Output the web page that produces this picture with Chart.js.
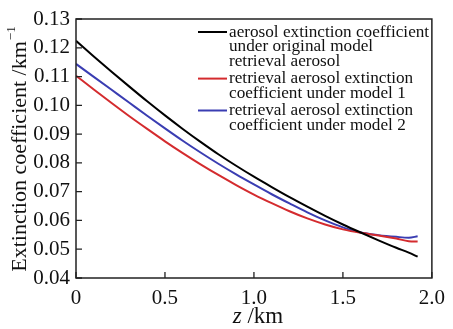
<!DOCTYPE html>
<html>
<head>
<meta charset="utf-8">
<script src="https://cdn.jsdelivr.net/npm/chart.js@4"></script>
<style>
  html, body { margin: 0; padding: 0; background: #fff; }
  #wrap { width: 453px; height: 329px; }
</style>
</head>
<body>
<div id="wrap"><canvas id="grafica"></canvas></div>
<script>
// heights z (km)
var heights = [0, 0.1, 0.2, 0.3, 0.4, 0.5, 0.6, 0.7, 0.8, 0.9, 1.0, 1.1, 1.2, 1.3, 1.4, 1.5, 1.6, 1.7, 1.8, 1.87, 1.92];

var original = [0.1224, 0.1170, 0.1117, 0.1065, 0.1014, 0.0965, 0.0918, 0.0873, 0.0830, 0.0790, 0.0752,
                0.0716, 0.0681, 0.0648, 0.0616, 0.0586, 0.0558, 0.0531, 0.0505, 0.0488, 0.0474];
var model1 = [0.1103, 0.1055, 0.1008, 0.0962, 0.0918, 0.0875, 0.0834, 0.0795, 0.0758, 0.0723, 0.0690,
              0.0660, 0.0632, 0.0607, 0.0586, 0.0569, 0.0557, 0.0548, 0.0537, 0.0528, 0.0527];
var model2 = [0.1144, 0.1099, 0.1054, 0.1009, 0.0964, 0.0920, 0.0877, 0.0836, 0.0797, 0.0760, 0.0725,
              0.0691, 0.0659, 0.0628, 0.0600, 0.0576, 0.0558, 0.0549, 0.0543, 0.0540, 0.0545];

var xTicks = ['0', '0.5', '1.0', '1.5', '2.0'];
var yTicks = ['0.04', '0.05', '0.06', '0.07', '0.08', '0.09', '0.10', '0.11', '0.12', '0.13'];

var legendLines = [
    ['aerosol extinction coefficient', 'under original model', 'retrieval aerosol'],
    ['retrieval aerosol extinction', 'coefficient under model 1'],
    ['retrieval aerosol extinction', 'coefficient under model 2']
];
var colores = ['#000000', '#d42b2e', '#3a3db2'];

var serif = '"Liberation Serif", "DejaVu Serif", serif';

function puntos(vals) {
    return vals.map(function (v, i) { return { x: heights[i], y: v }; });
}

// frame, inward ticks, axis titles and legend
var marco = {
    id: 'marco',
    afterDraw: function (chart) {
        var ctx = chart.ctx;
        var a = chart.chartArea;
        var xs = chart.scales.x, ys = chart.scales.y;
        ctx.save();
        ctx.strokeStyle = '#222';
        ctx.lineWidth = 1.5;
        ctx.strokeRect(a.left, a.top, a.right - a.left, a.bottom - a.top);

        ctx.lineWidth = 1.3;
        ctx.beginPath();
        xs.ticks.forEach(function (t) {
            var px = xs.getPixelForValue(t.value);
            ctx.moveTo(px, a.bottom); ctx.lineTo(px, a.bottom - 6);
        });
        ys.ticks.forEach(function (t) {
            var py = ys.getPixelForValue(t.value);
            ctx.moveTo(a.left, py); ctx.lineTo(a.left + 6, py);
        });
        ctx.stroke();

        // x title
        ctx.fillStyle = '#111';
        ctx.textBaseline = 'middle';
        ctx.font = 'italic 23px ' + serif;
        var wz = ctx.measureText('z').width;
        ctx.font = '23px ' + serif;
        var wr = ctx.measureText(' /km').width;
        var cx = (a.left + a.right) / 2 + 4;
        var x0 = cx - (wz + wr) / 2;
        ctx.font = 'italic 23px ' + serif;
        ctx.textAlign = 'left';
        ctx.fillText('z', x0, 317);
        ctx.font = '23px ' + serif;
        ctx.fillText(' /km', x0 + wz, 317);

        // y title
        ctx.save();
        ctx.translate(20, (a.top + a.bottom) / 2 + 1);
        ctx.rotate(-Math.PI / 2);
        ctx.font = '22px ' + serif;
        var main = 'Extinction coefficient /km';
        var wm = ctx.measureText(main).width;
        ctx.font = '13px ' + serif;
        var ws = ctx.measureText('\u22121').width;
        var sx = -(wm + ws) / 2;
        ctx.font = '22px ' + serif;
        ctx.fillText(main, sx, 0);
        ctx.font = '13px ' + serif;
        ctx.fillText('\u22121', sx + wm + 1, -8);
        ctx.restore();

        // legend
        ctx.font = '17.2px ' + serif;
        ctx.textBaseline = 'middle';
        var y = a.top + 13;
        legendLines.forEach(function (lines, k) {
            ctx.strokeStyle = colores[k];
            ctx.lineWidth = 2;
            ctx.beginPath();
            ctx.moveTo(198, y); ctx.lineTo(227, y);
            ctx.stroke();
            lines.forEach(function (txt, j) {
                ctx.fillStyle = '#111';
                ctx.fillText(txt, 229, y + j * 14.7);
            });
            y += lines.length * 14.7 + 2.5;
        });
        ctx.restore();
    }
};

var canvas = document.getElementById('grafica');

new Chart(canvas.getContext('2d'), {
    type: 'line',
    data: {
        datasets: [
            { label: legendLines[0].join(' '), data: puntos(original), borderColor: colores[0] },
            { label: legendLines[1].join(' '), data: puntos(model1), borderColor: colores[1] },
            { label: legendLines[2].join(' '), data: puntos(model2), borderColor: colores[2] }
        ]
    },
    options: {
        responsive: true,
        maintainAspectRatio: false,
        animation: false,
        layout: { padding: { top: 19, right: 15, left: 0, bottom: 0 } },
        elements: {
            point: { radius: 0 },
            line: { borderWidth: 2, tension: 0.4, cubicInterpolationMode: 'monotone', fill: false }
        },
        scales: {
            x: {
                type: 'linear', min: 0, max: 2,
                grid: { display: false, drawTicks: false },
                border: { display: false },
                ticks: {
                    stepSize: 0.5, padding: 8, color: '#111', maxRotation: 0,
                    font: { family: serif, size: 21 },
                    callback: function (v) { return xTicks[Math.round(v / 0.5)]; }
                },
                afterFit: function (s) { s.height = 51; }
            },
            y: {
                min: 0.04, max: 0.13,
                grid: { display: false, drawTicks: false },
                border: { display: false },
                ticks: {
                    stepSize: 0.01, padding: 6, color: '#111',
                    font: { family: serif, size: 21 },
                    callback: function (v) { return yTicks[Math.round((v - 0.04) / 0.01)]; }
                },
                afterFit: function (s) { s.width = 76; }
            }
        },
        plugins: { legend: { display: false }, tooltip: { enabled: false } }
    },
    plugins: [marco]
});
</script>
</body>
</html>
